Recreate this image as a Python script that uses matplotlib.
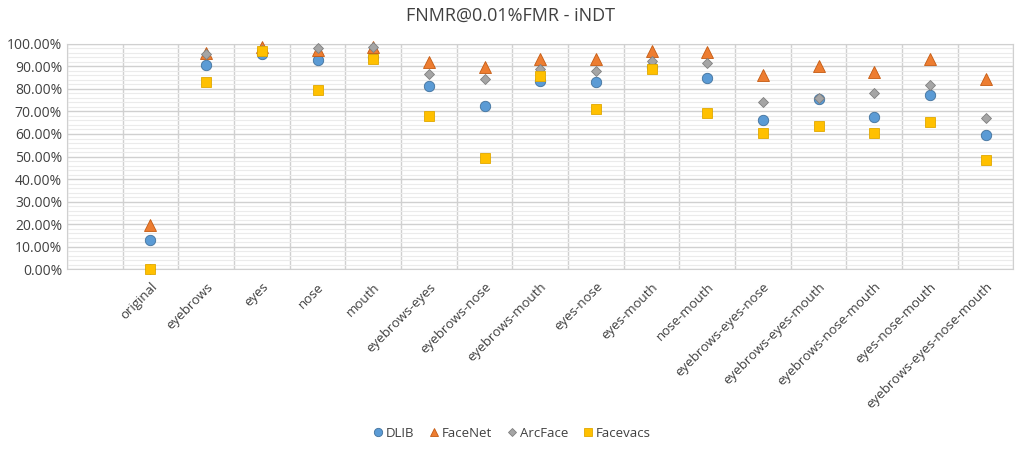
import matplotlib
matplotlib.use("Agg")
import matplotlib.pyplot as plt
import numpy as np
from matplotlib.ticker import MultipleLocator, PercentFormatter

plt.rcParams['font.family'] = ['Open Sans', 'DejaVu Sans']

categories = ["", "original", "eyebrows", "eyes", "nose", "mouth",
              "eyebrows-eyes", "eyebrows-nose", "eyebrows-mouth", "eyes-nose",
              "eyes-mouth", "nose-mouth", "eyebrows-eyes-nose",
              "eyebrows-eyes-mouth", "eyebrows-nose-mouth", "eyes-nose-mouth",
              "eyebrows-eyes-nose-mouth"]

# values in %, first category is empty
dlib = [None, 12.8, 90.5, 95.6, 92.7, 94.4, 81.3, 72.4, 83.6, 83.0, 89.6,
        85.0, 66.1, 75.7, 67.7, 77.5, 59.4]
facenet = [None, 19.8, 95.8, 98.8, 97.5, 98.5, 91.9, 89.8, 93.5, 93.5, 96.9,
           96.3, 86.1, 90.4, 87.6, 93.2, 84.6]
arcface = [None, 0.2, 95.4, 97.5, 98.1, 98.5, 86.8, 84.6, 88.7, 87.9, 92.6,
           91.6, 74.2, 76.1, 78.1, 81.9, 67.1]
facevacs = [None, 0.0, 83.0, 96.7, 79.6, 93.2, 67.8, 49.2, 85.9, 71.0, 88.9,
            69.3, 60.6, 63.4, 60.6, 65.5, 48.6]

series = [
    ("DLIB", dlib, "o", 7.5, "#5B9BD5", "#41719C"),
    ("FaceNet", facenet, "^", 8, "#ED7D31", "#C55A11"),
    ("ArcFace", arcface, "D", 5.5, "#A5A5A5", "#7F7F7F"),
    ("Facevacs", facevacs, "s", 6.5, "#FFC000", "#E0A800"),
]

fig = plt.figure(figsize=(10.21, 4.53), dpi=100)
ax = fig.add_axes([0.0656, 0.406, 0.927, 0.497])

x = np.arange(len(categories))
for name, vals, mk, ms, fc, ec in series:
    v = np.array([np.nan if a is None else a for a in vals], dtype=float)
    ax.plot(x, v, linestyle="none", marker=mk, markersize=ms,
            markerfacecolor=fc, markeredgecolor=ec, markeredgewidth=0.6,
            label=name, clip_on=False, zorder=3)

ax.set_xlim(-0.5, len(categories) - 0.5)
ax.set_ylim(0, 100)
ax.yaxis.set_major_locator(MultipleLocator(10))
ax.yaxis.set_minor_locator(MultipleLocator(2))
ax.yaxis.set_major_formatter(PercentFormatter(decimals=2))
ax.grid(which="major", axis="y", color="#D0D0D0", linewidth=1.0)
ax.grid(which="minor", axis="y", color="#EBEBEB", linewidth=0.8)
ax.set_axisbelow(True)

# vertical category separators
for b in np.arange(-0.5, len(categories), 1.0):
    ax.axvline(b, color="#D0D0D0", linewidth=1.0, zorder=0)

ax.set_xticks(x)
ax.set_xticklabels(categories, rotation=45, ha="right", va="top",
                   rotation_mode="anchor", fontsize=9.5, color="#404040")
ax.tick_params(axis="both", which="both", length=0, labelsize=10,
               colors="#404040")
ax.tick_params(axis="x", labelsize=9.5, pad=8)
for sp in ax.spines.values():
    sp.set_color("#D0D0D0")

fig.suptitle("FNMR@0.01%FMR - iNDT", y=0.985, fontsize=13, color="#404040")

fig.legend(loc="center", bbox_to_anchor=(0.5, 0.044), ncol=4, frameon=False,
           fontsize=9.5, handletextpad=0.0, handlelength=1.2,
           columnspacing=0.9, markerscale=0.8, labelcolor="#404040")

fig.savefig("out.png", dpi=100)
